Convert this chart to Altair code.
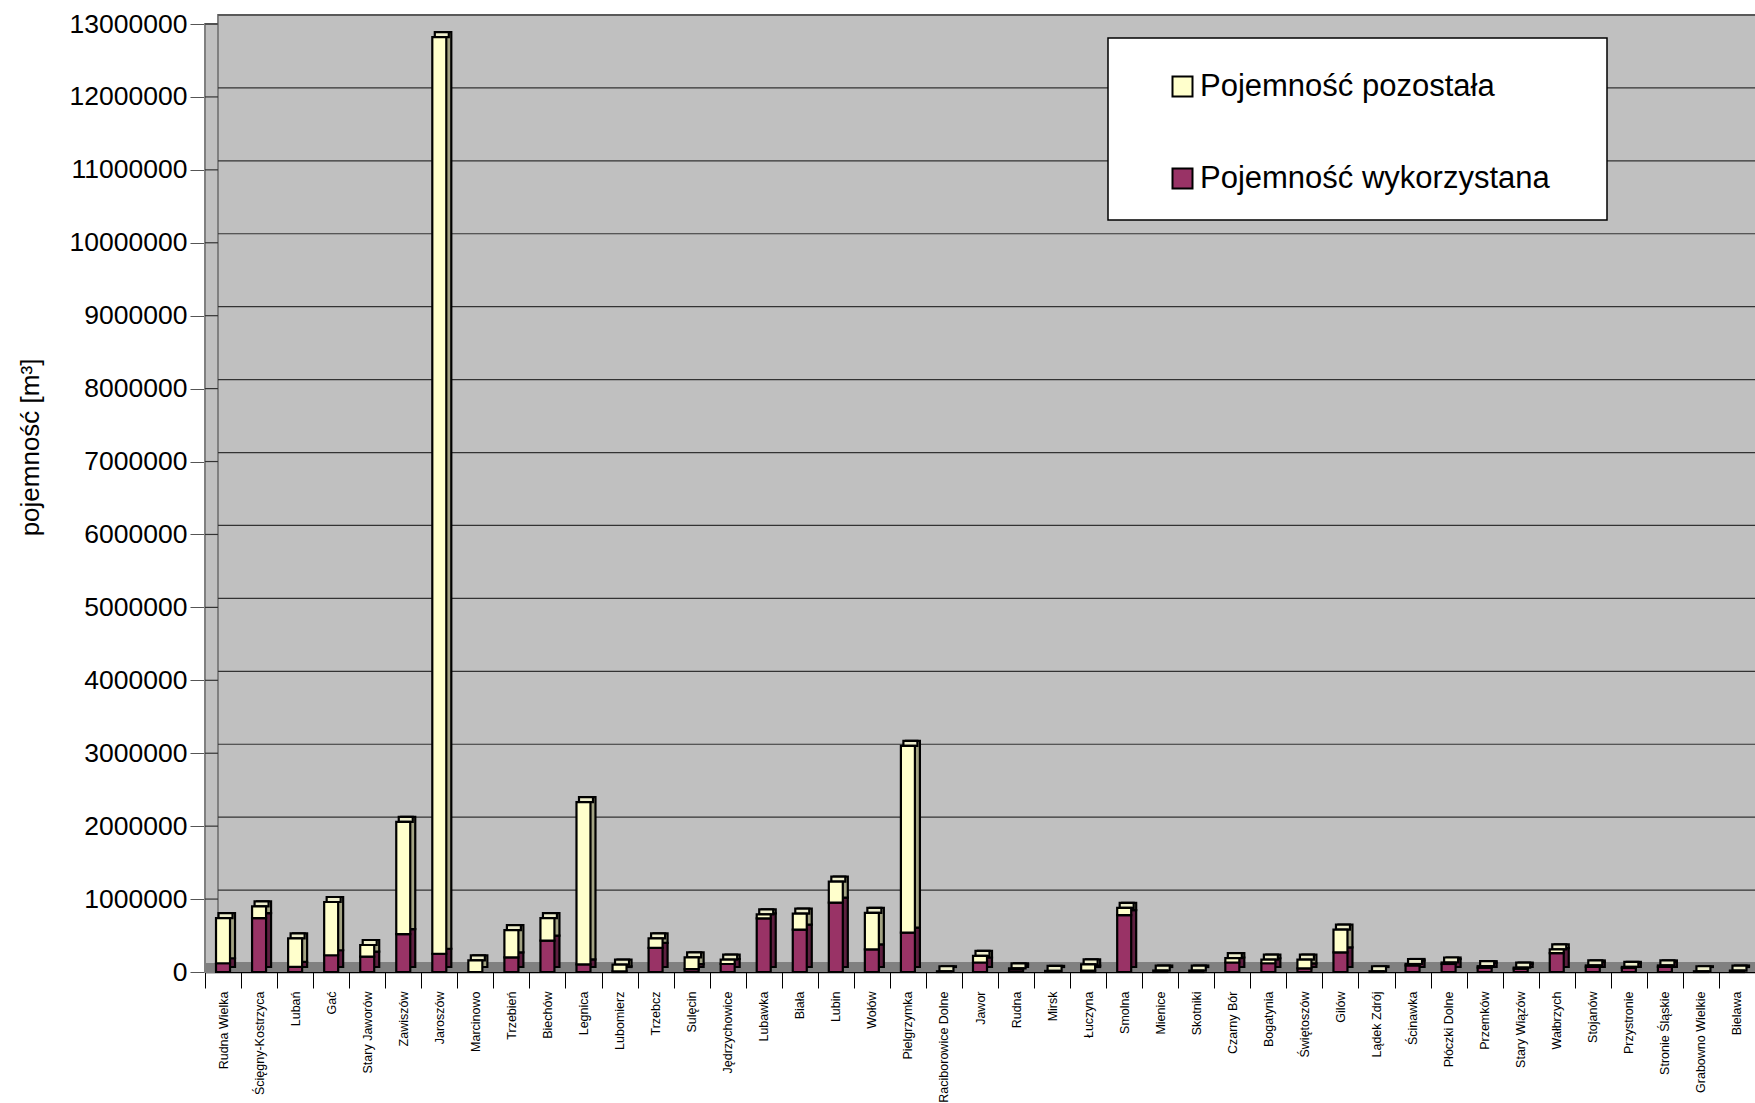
import altair as alt
import pandas as pd

# Reservoir names in display order
categories = [
    "Rudna Wielka", "Ścięgny-Kostrzyca", "Lubań", "Gać", "Stary Jaworów",
    "Zawiszów", "Jaroszów", "Marcinowo", "Trzebień", "Biechów", "Legnica",
    "Lubomierz", "Trzebcz", "Sulęcin", "Jędrzychowice", "Lubawka", "Biała",
    "Lubin", "Wołów", "Pielgrzymka", "Raciborowice Dolne", "Jawor", "Rudna",
    "Mirsk", "Łuczyna", "Smolna", "Mienice", "Skotniki", "Czarny Bór",
    "Bogatynia", "Świętoszów", "Gilów", "Lądek Zdrój", "Ścinawka",
    "Płóczki Dolne", "Przemków", "Stary Wiązów", "Wałbrzych", "Stojanów",
    "Przystronie", "Stronie Śląskie", "Grabowno Wielkie", "Bielawa",
]

# Used capacity [m3]
wykorzystana = [
    120000, 740000, 70000, 230000, 210000,
    520000, 250000, 0, 200000, 430000, 105000,
    10000, 330000, 40000, 110000, 735000, 580000,
    950000, 310000, 540000, 0, 130000, 35000,
    0, 20000, 780000, 0, 0, 130000,
    120000, 50000, 270000, 0, 90000,
    110000, 60000, 45000, 260000, 70000,
    55000, 70000, 0, 10000,
]

# Remaining capacity [m3]
pozostala = [
    620000, 160000, 390000, 730000, 160000,
    1540000, 12570000, 160000, 375000, 310000, 2225000,
    90000, 130000, 160000, 60000, 55000, 220000,
    290000, 500000, 2560000, 10000, 90000, 15000,
    15000, 85000, 100000, 20000, 20000, 60000,
    50000, 120000, 310000, 10000, 20000,
    20000, 20000, 15000, 50000, 20000,
    15000, 20000, 10000, 10000,
]

series = ["Pojemność pozostała", "Pojemność wykorzystana"]
front_colors = ["#FFFFCC", "#993366"]
side_colors = ["#A3A383", "#5E1F40"]
top_color = "#EEEECC"
y_ticks = list(range(0, 13000001, 1000000))

rows = []
for name, used, rest in zip(categories, wykorzystana, pozostala):
    rows.append({"miejsce": name, "seria": series[1], "wartosc": used, "kolej": 0})
    rows.append({"miejsce": name, "seria": series[0], "wartosc": rest, "kolej": 1})
df = pd.DataFrame(rows)
df_top = pd.DataFrame({
    "miejsce": categories,
    "suma": [u + r for u, r in zip(wykorzystana, pozostala)],
})

W, H = 1550, 948
DX, DY = 13, 9        # depth of the back wall
BAR_W = 14
BX, BY = 5, 5         # depth of each bar
FONT = "Liberation Sans"

x_enc = alt.X(
    "miejsce:N",
    sort=categories,
    scale=alt.Scale(paddingInner=0, paddingOuter=0),
    axis=alt.Axis(
        title=None, labelAngle=-90, labelFontSize=12.5, labelFont=FONT,
        labelColor="black", labelPadding=3, tickBand="extent", tickSize=16,
        tickColor="black", domainColor="black", domainWidth=1.5, labelLimit=200,
    ),
)
y_scale = alt.Scale(domain=[0, 13000000], nice=False)
y_enc = alt.Y(
    "sum(wartosc):Q",
    stack="zero",
    scale=y_scale,
    axis=alt.Axis(
        values=y_ticks, format="d", labelFontSize=26.5, labelFont=FONT,
        labelColor="black", labelPadding=3, tickSize=15, tickColor="#555555",
        domainColor="#808080", domainWidth=2, grid=False,
        title="pojemność [m³]", titleFontSize=26, titleFont=FONT,
        titleFontWeight="normal", titleColor="black", titleAngle=-90,
        titleX=-175, titleY=423, titleAlign="center", titleBaseline="middle",
    ),
)

one = pd.DataFrame({"k": [0]})

# Back wall, left wall and floor
wall = alt.Chart(one).mark_rect(
    fill="#C0C0C0", stroke="#808080", strokeWidth=2, yOffset=-DY, y2Offset=-DY
).encode(
    x=alt.value(DX), x2=alt.value(W + 40),
    y=alt.datum(13000000, scale=y_scale), y2=alt.datum(0),
)
side_wall = alt.Chart(one).mark_rect(
    fill="#C0C0C0", stroke="#808080", strokeWidth=2
).encode(
    x=alt.value(0), x2=alt.value(DX),
    y=alt.datum(13000000, scale=y_scale), y2=alt.datum(0),
)
floor = alt.Chart(one).mark_rect(
    fill="#808080", yOffset=-DY, y2Offset=0
).encode(
    x=alt.value(0), x2=alt.value(W + 40),
    y=alt.datum(0, scale=y_scale), y2=alt.datum(0),
)

grid_df = pd.DataFrame({"v": y_ticks[1:]})
grid = alt.Chart(grid_df).mark_rule(
    color="#333333", strokeWidth=1.2, yOffset=-DY
).encode(
    x=alt.value(DX), x2=alt.value(W + 40),
    y=alt.Y("v:Q", scale=y_scale),
)
grid_diag = alt.Chart(grid_df).mark_rule(color="#333333", strokeWidth=1.2).encode(
    x=alt.value(0), x2=alt.value(DX),
    y=alt.Y("v:Q", scale=y_scale), y2=alt.Y2("v:Q"),
)

# Legend panel
legend_box = alt.Chart(one).mark_rect(
    fill="white", stroke="black", strokeWidth=1.5
).encode(
    x=alt.value(903), x2=alt.value(1402),
    y=alt.value(14), y2=alt.value(196),
)

# Side faces of the bars
side = alt.Chart(df).mark_bar(
    width=BAR_W, xOffset=BX, yOffset=-BY, stroke="black", strokeWidth=2.2
).encode(
    x=x_enc, y=y_enc,
    color=alt.Color("seria:N", scale=alt.Scale(domain=series, range=side_colors), legend=None),
    order=alt.Order("kolej:Q"),
)

# Top faces of the bars
top = alt.Chart(df_top).mark_bar(
    width=BAR_W, xOffset=BX / 2, yOffset=-BY, y2Offset=0,
    fill=top_color, stroke="black", strokeWidth=2.2
).encode(
    x=alt.X("miejsce:N", sort=categories),
    y=alt.Y("suma:Q", scale=y_scale),
    y2=alt.Y2("suma:Q"),
)

# Front faces of the bars
front = alt.Chart(df).mark_bar(
    width=BAR_W, stroke="black", strokeWidth=2.2
).encode(
    x=x_enc, y=y_enc,
    fill=alt.Fill(
        "seria:N",
        scale=alt.Scale(domain=series, range=front_colors),
        legend=alt.Legend(
            title=None, orient="none", legendX=962, legendY=47, padding=0,
            labelFontSize=31, labelFont=FONT, labelColor="black",
            symbolType="square", symbolSize=400, symbolStrokeColor="black",
            symbolStrokeWidth=2, symbolOffset=0, rowPadding=60, labelOffset=2,
            labelLimit=500,
        ),
    ),
    order=alt.Order("kolej:Q"),
)

chart = alt.layer(
    wall, side_wall, floor, grid, grid_diag, legend_box, side, top, front
).resolve_scale(color="independent").properties(
    width=W, height=H,
    autosize=alt.AutoSizeParams(type="none"),
    padding={"left": 205, "top": 24, "right": 0, "bottom": 131},
).configure_view(stroke=None, fill=None).configure(background="white")

chart.save("out.html", embed_options={"renderer": "svg", "actions": False})
